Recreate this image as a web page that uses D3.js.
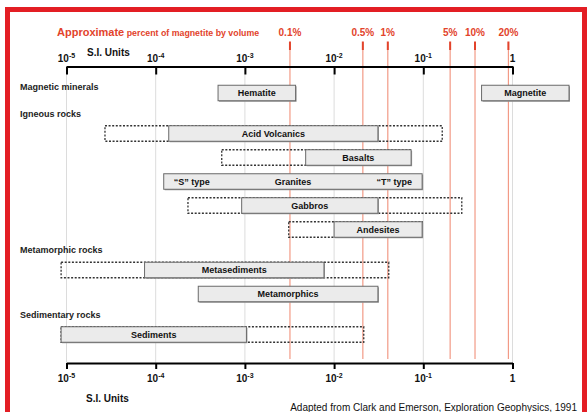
<!DOCTYPE html>
<html>
<head>
<meta charset="utf-8">
<script src="https://cdn.jsdelivr.net/npm/d3@7"></script>
<style>
  body { margin: 0; background: #fff; }
  svg { display: block; font-family: "Liberation Sans", Arial, sans-serif; }
  .grp { font-size: 9px; font-weight: bold; fill: #222; }
  .lbl { font-size: 9px; font-weight: bold; fill: #111; }
  .tick-lbl { font-size: 10px; font-weight: bold; fill: #111; }
  .pct { font-size: 10px; font-weight: bold; fill: #e2432b; }
</style>
</head>
<body>
<div id="chart"></div>
<script>
const width = 588, height = 412;

// susceptibility decades (SI)
const decades = [1e-5, 1e-4, 1e-3, 1e-2, 1e-1, 1];
const decadeExp = ["-5", "-4", "-3", "-2", "-1", ""];

// approximate percent magnetite by volume
const pctLabels = ["0.1%", "0.5%", "1%", "5%", "10%", "20%"];
const pctValues = [0.0032, 0.021, 0.040, 0.20, 0.38, 0.90];

// rock types and their susceptibility ranges
const groupNames = ["Magnetic minerals", "Igneous rocks", "Metamorphic rocks", "Sedimentary rocks"];
const rockNames = ["Hematite", "Magnetite", "Acid Volcanics", "Basalts", "Granites",
  "Gabbros", "Andesites", "Metasediments", "Metamorphics", "Sediments"];
const rockGroups = ["Magnetic minerals", "Magnetic minerals", "Igneous rocks", "Igneous rocks",
  "Igneous rocks", "Igneous rocks", "Igneous rocks", "Metamorphic rocks", "Metamorphic rocks",
  "Sedimentary rocks"];
const typicalMin = [5.0e-4, 0.45, 1.4e-4, 4.8e-3, 1.23e-4, 9.2e-4, 0.010, 7.5e-5, 3.0e-4, 8.7e-6];
const typicalMax = [3.7e-3, 4.3, 0.031, 0.073, 0.097, 0.031, 0.097, 7.7e-3, 0.031, 1.04e-3];
const extremeMin = [null, null, 2.7e-5, 5.5e-4, null, 2.3e-4, 3.1e-3, 8.7e-6, null, null];
const extremeMax = [null, null, 0.163, null, null, 0.27, null, 0.041, null, 0.0215];

const svg = d3.select("#chart").append("svg")
  .attr("width", width).attr("height", height);

const x = d3.scaleLog().domain([1e-5, 1]).range([66.5, 512.5]);
const axisTopY = 66.5, axisBotY = 363;

// row layout: minerals share the first row, each rock below gets its own
const rowStep = 24, headerGap = 16.5, firstRowY = 93, barH = 15.5;
let row = -1, lastGroup = null;
const rocks = rockNames.map((name, i) => {
  const g = rockGroups[i];
  if (!(g === lastGroup && g === "Magnetic minerals")) row++;
  lastGroup = g;
  const gi = groupNames.indexOf(g);
  return {
    name, group: g, gi, row,
    y: firstRowY + row * rowStep + gi * headerGap,
    tMin: typicalMin[i], tMax: typicalMax[i],
    eMin: extremeMin[i] ?? typicalMin[i], eMax: extremeMax[i] ?? typicalMax[i]
  };
});

// red frame
const red = "#e31e24";
svg.append("path")
  .attr("d", `M7.5,${height} V9.5 H584.5 V${height}`)
  .attr("fill", "none").attr("stroke", red).attr("stroke-width", 5);

// decade grid lines
svg.append("g").selectAll("line").data(decades).join("line")
  .attr("x1", d => x(d)).attr("x2", d => x(d))
  .attr("y1", axisTopY).attr("y2", axisBotY)
  .attr("stroke", "#dcdcdc").attr("stroke-width", 1);

// magnetite percent lines
const pct = svg.append("g");
pct.selectAll("line.thin").data(pctValues).join("line")
  .attr("class", "thin")
  .attr("x1", d => x(d)).attr("x2", d => x(d))
  .attr("y1", 42).attr("y2", axisBotY - 4)
  .attr("stroke", "#f29a86").attr("stroke-width", 1.2);
pct.selectAll("line.mark").data(pctValues).join("line")
  .attr("class", "mark")
  .attr("x1", d => x(d)).attr("x2", d => x(d))
  .attr("y1", 41.5).attr("y2", 50)
  .attr("stroke", "#e2432b").attr("stroke-width", 2);
pct.selectAll("text").data(pctValues).join("text")
  .attr("class", "pct")
  .attr("x", d => x(d)).attr("y", 36)
  .attr("text-anchor", "middle")
  .text((d, i) => pctLabels[i]);

const title = svg.append("text").attr("x", 57).attr("y", 36)
  .attr("fill", "#e2432b").attr("font-weight", "bold");
title.append("tspan").attr("font-size", 11).text("Approximate");
title.append("tspan").attr("font-size", 8.8).text(" percent of magnetite by volume");

// dashed extreme ranges
const bars = svg.append("g");
bars.selectAll("rect.ext").data(rocks.filter(r => r.eMin < r.tMin || r.eMax > r.tMax)).join("rect")
  .attr("class", "ext")
  .attr("x", d => x(d.eMin)).attr("y", d => d.y - barH / 2)
  .attr("width", d => x(d.eMax) - x(d.eMin)).attr("height", barH)
  .attr("fill", "none").attr("stroke", "#333").attr("stroke-width", 1.3)
  .attr("stroke-dasharray", "2,1.6");

// typical ranges
bars.selectAll("rect.shadow").data(rocks).join("rect")
  .attr("class", "shadow")
  .attr("x", d => x(d.tMin) + 1).attr("y", d => d.y - barH / 2 + 1)
  .attr("width", d => x(d.tMax) - x(d.tMin)).attr("height", barH)
  .attr("fill", "#9a9a9a");
bars.selectAll("rect.typ").data(rocks).join("rect")
  .attr("class", "typ")
  .attr("x", d => x(d.tMin)).attr("y", d => d.y - barH / 2)
  .attr("width", d => x(d.tMax) - x(d.tMin)).attr("height", barH)
  .attr("fill", "#ebebeb").attr("stroke", "#6a6a6a").attr("stroke-width", 1);

bars.selectAll("text.lbl").data(rocks).join("text")
  .attr("class", "lbl")
  .attr("x", d => (x(d.tMin) + x(d.tMax)) / 2).attr("y", d => d.y + 3.3)
  .attr("text-anchor", "middle")
  .text(d => d.name);

const granite = rocks.find(r => r.name === "Granites");
bars.append("text").attr("class", "lbl")
  .attr("x", x(granite.tMin) + 10).attr("y", granite.y + 3.3)
  .text("\u201CS\u201D type");
bars.append("text").attr("class", "lbl")
  .attr("x", x(granite.tMax) - 10).attr("y", granite.y + 3.3)
  .attr("text-anchor", "end")
  .text("\u201CT\u201D type");

// group headings
svg.append("g").selectAll("text").data(groupNames).join("text")
  .attr("class", "grp")
  .attr("x", 20)
  .attr("y", (g, i) => {
    const first = rocks.find(r => r.group === g);
    return i === 0 ? first.y - 3.5 : first.y - 17;
  })
  .text(d => d);

// axes
function styleAxis(g) {
  g.select(".domain").attr("stroke", "#000").attr("stroke-width", 2);
  g.selectAll(".tick line").attr("stroke", "#000").attr("stroke-width", 2);
}

svg.append("g")
  .attr("transform", `translate(0,${axisTopY})`)
  .call(d3.axisBottom(x).tickValues(decades).tickSize(8).tickSizeOuter(0).tickFormat(() => ""))
  .call(styleAxis);

svg.append("g")
  .attr("transform", `translate(0,${axisBotY})`)
  .call(d3.axisBottom(x).tickValues(decades).tickSize(6).tickSizeOuter(0).tickFormat(() => ""))
  .call(styleAxis);

function decadeLabels(yPos) {
  const t = svg.append("g").selectAll("text").data(decades).join("text")
    .attr("class", "tick-lbl")
    .attr("x", d => x(d)).attr("y", yPos)
    .attr("text-anchor", "middle");
  t.append("tspan").text((d, i) => decadeExp[i] ? "10" : "1");
  t.append("tspan").attr("font-size", 7).attr("dy", -4)
    .text((d, i) => decadeExp[i]);
}
decadeLabels(62);
decadeLabels(382);

svg.append("text").attr("class", "tick-lbl").attr("x", 87).attr("y", 55.5).text("S.I. Units");
svg.append("text").attr("class", "tick-lbl").attr("x", 86).attr("y", 402).text("S.I. Units");

svg.append("text")
  .attr("x", 577).attr("y", 411)
  .attr("text-anchor", "end")
  .attr("font-size", 10).attr("fill", "#111")
  .text("Adapted from Clark and Emerson, Exploration Geophysics, 1991");
</script>
</body>
</html>
